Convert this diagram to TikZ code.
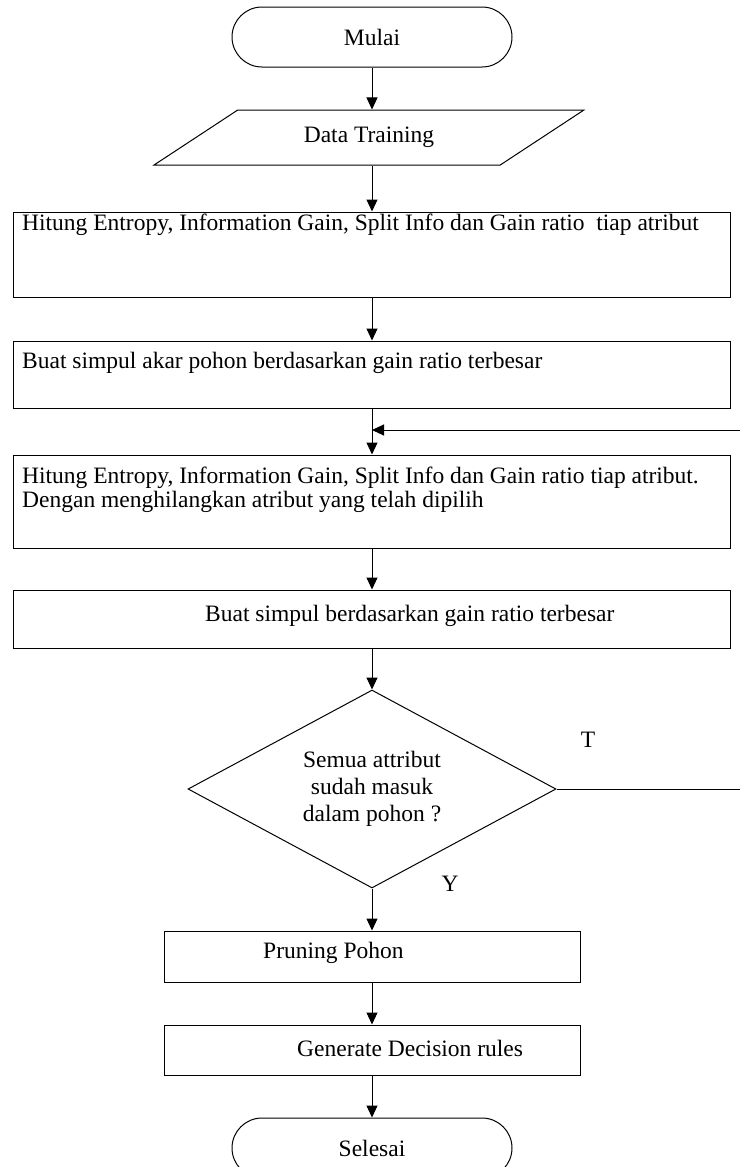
\documentclass[tikz,border=0pt]{standalone}
\usepackage{fontspec}
\setmainfont{Liberation Serif}
\usetikzlibrary{shapes.geometric,arrows.meta}

\begin{document}
\begin{tikzpicture}[x=1pt,y=-1pt,
    font=\fontsize{23.5}{24}\selectfont,
    terminal/.style={draw=black,line width=1pt,rounded corners=30pt,minimum width=280pt,minimum height=60pt},
    io/.style={draw=black,line width=1pt,trapezium,trapezium left angle=32,trapezium right angle=148,trapezium stretches=true,minimum width=430pt,minimum height=55pt},
    proses/.style={draw=black,line width=1pt,rectangle,minimum width=717pt},
    keputusan/.style={draw=black,line width=1pt,diamond,aspect=1.86,inner sep=0pt,minimum width=368pt,minimum height=198pt,align=center,font=\fontsize{23.5}{27}\selectfont},
    teks/.style={anchor=west,inner sep=0pt},
    panah/.style={draw=black,line width=1pt,-{Triangle[width=11pt,length=12pt]}}]
    \useasboundingbox (0,0) rectangle (740,1167);

    \node[terminal] (mulai) at (372,37) {Mulai};
    \node[io] (data) at (369,137.5) {Data Training};
    \node[proses,minimum height=85pt] (hitung) at (372,254.5) {};
    \node[teks] (hitungteks) at (22,225) {Hitung Entropy, Information Gain, Split Info dan Gain ratio\ \ tiap atribut};
    \node[proses,minimum height=67pt] (akar) at (372,374.5) {};
    \node[teks] (akarteks) at (22,363) {Buat simpul akar pohon berdasarkan gain ratio terbesar};
    \node[proses,minimum height=93pt] (hitungulang) at (372,501.5) {};
    \node[teks,align=left] (hitungulangteks) at (22,490) {Hitung Entropy, Information Gain, Split Info dan Gain ratio tiap atribut.\\Dengan menghilangkan atribut yang telah dipilih};
    \node[proses,minimum height=58pt] (simpul) at (372,619) {};
    \node[teks] (simpulteks) at (205,616) {Buat simpul berdasarkan gain ratio terbesar};
    \node[keputusan] (cek) at (372,789) {Semua attribut\\sudah masuk\\dalam pohon ?};
    \node (tidak) at (588,740) {T};
    \node (ya) at (450,884) {Y};
    \node[proses,minimum width=416pt,minimum height=51pt] (pruning) at (372,956.5) {};
    \node[teks] (pruningteks) at (263,953) {Pruning Pohon};
    \node[proses,minimum width=416pt,minimum height=50pt] (rules) at (372,1050) {};
    \node[teks] (rulesteks) at (297,1048) {Generate Decision rules};
    \node[terminal] (selesai) at (372,1148) {Selesai};

    \coordinate (kembali) at (740,430);
    \coordinate (gabung) at (372,430);
    \coordinate (ujungT) at (740,789);

    \draw[panah] (mulai) -- (mulai.south |- data.north);
    \draw[panah] (hitung.north |- data.south) -- (hitung);
    \draw[panah] (hitung) -- (akar);
    \draw[panah] (akar) -- (hitungulang);
    \draw[panah] (kembali) -- (gabung);
    \draw[panah] (hitungulang) -- (simpul);
    \draw[panah] (simpul) -- (cek);
    \draw[line width=1pt] (cek) -- (ujungT);
    \draw[panah] (cek) -- (pruning);
    \draw[panah] (pruning) -- (rules);
    \draw[panah] (rules) -- (selesai);
\end{tikzpicture}
\end{document}
